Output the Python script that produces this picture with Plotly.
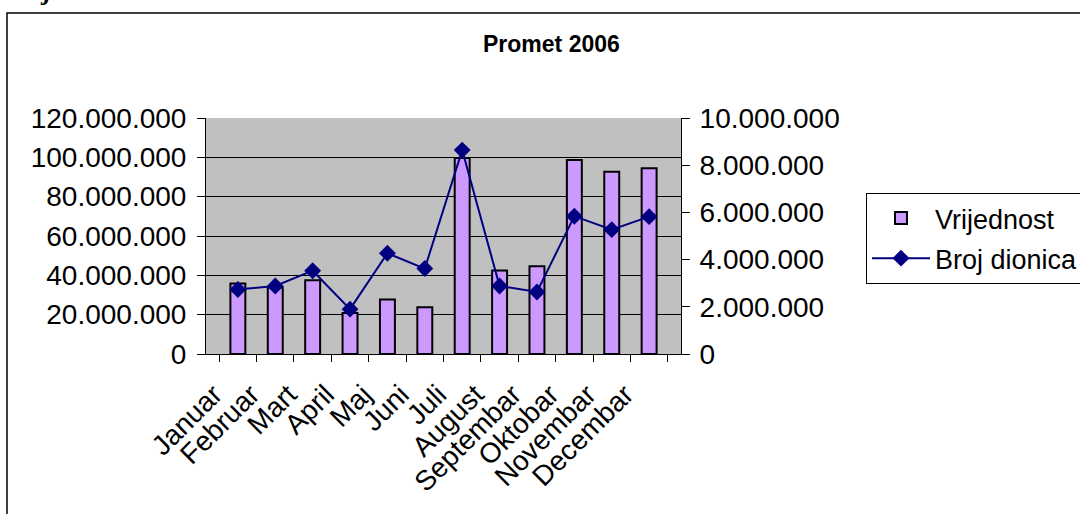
import plotly.graph_objects as go

months = ["Januar", "Februar", "Mart", "April", "Maj", "Juni", "Juli",
          "August", "Septembar", "Oktobar", "Novembar", "Decembar"]
vrijednost = [35.8e6, 33.8e6, 37.5e6, 20.9e6, 27.7e6, 23.8e6, 99.6e6,
              42.4e6, 44.6e6, 98.6e6, 92.7e6, 94.5e6]
broj_dionica = [2.73e6, 2.88e6, 3.53e6, 1.90e6, 4.27e6, 3.62e6, 8.64e6,
                2.88e6, 2.63e6, 5.84e6, 5.27e6, 5.82e6]
y1_ticks = [0, 20e6, 40e6, 60e6, 80e6, 100e6, 120e6]
y2_ticks = [0, 2e6, 4e6, 6e6, 8e6, 10e6]

W, H = 1080, 514
PL, PR, PT, PB = 206, 681, 118, 354  # plot area in pixels

def px(x):
    return (x - PL) / (PR - PL)

def py(y):
    return (PB - y) / (PB - PT)

FONT = "Liberation Sans, Arial, sans-serif"

fig = go.Figure()
fig.add_trace(go.Bar(
    x=months, y=vrijednost, name="Vrijednost", yaxis="y", legendgroup="a",
    marker=dict(color="#CC99FF", line=dict(color="black", width=2)),
    width=0.4,
))
fig.add_trace(go.Scatter(
    x=months, y=broj_dionica, name="Broj dionica", yaxis="y2", legendgroup="b",
    mode="lines+markers",
    line=dict(color="#000080", width=2),
    marker=dict(symbol="diamond", size=13, color="#000080"),
))

fig.update_layout(
    width=W, height=H,
    margin=dict(l=PL, r=W - PR, t=PT, b=H - PB, autoexpand=False),
    paper_bgcolor="white",
    plot_bgcolor="#C0C0C0",
    separators=",.",
    font=dict(family=FONT, size=28, color="black"),
    showlegend=True,
    legend=dict(
        x=px(866), y=py(193), xanchor="left", yanchor="top",
        bordercolor="black", borderwidth=1, bgcolor="white",
        font=dict(size=27), tracegroupgap=2, itemwidth=58,
    ),
    xaxis=dict(
        type="category", tickangle=-45, tickson="boundaries",
        ticks="outside", ticklen=7, tickcolor="black",
        showline=True, linecolor="black", linewidth=1,
        showgrid=False, tickfont=dict(size=28),
        ticklabelshift=-24, ticklabelstandoff=12,
    ),
    yaxis=dict(
        range=[0, 120e6], tickvals=y1_ticks, tickformat=",d",
        ticks="outside", ticklen=8, tickcolor="black",
        showline=True, linecolor="black", linewidth=1,
        showgrid=True, gridcolor="black", gridwidth=1,
        zeroline=False, tickfont=dict(size=28), ticklabelstandoff=5,
    ),
    yaxis2=dict(
        range=[0, 10e6], tickvals=y2_ticks, tickformat=",d",
        overlaying="y", side="right",
        ticks="outside", ticklen=8, tickcolor="black",
        showline=True, linecolor="black", linewidth=1,
        showgrid=False, zeroline=False, tickfont=dict(size=28),
        ticklabelstandoff=4,
    ),
    annotations=[
        dict(text="<b>Promet 2006</b>", xref="paper", yref="paper",
             x=px(551), y=py(44), xanchor="center", yanchor="middle",
             showarrow=False, font=dict(size=23)),
        dict(text="<b><i>j</i></b>", xref="paper", yref="paper",
             x=px(46), y=py(-9), xanchor="center", yanchor="middle",
             showarrow=False, font=dict(size=26, family="Liberation Serif")),
    ],
    shapes=[
        dict(type="rect", xref="paper", yref="paper",
             x0=px(7), x1=px(1200), y0=py(13), y1=py(600),
             line=dict(color="black", width=1.5), fillcolor="rgba(0,0,0,0)",
             layer="below"),
    ],
)

fig.write_html("out.html",
               config={"displayModeBar": False},
               post_script="document.body.style.margin='0';"
                           "document.body.style.overflow='hidden';")
